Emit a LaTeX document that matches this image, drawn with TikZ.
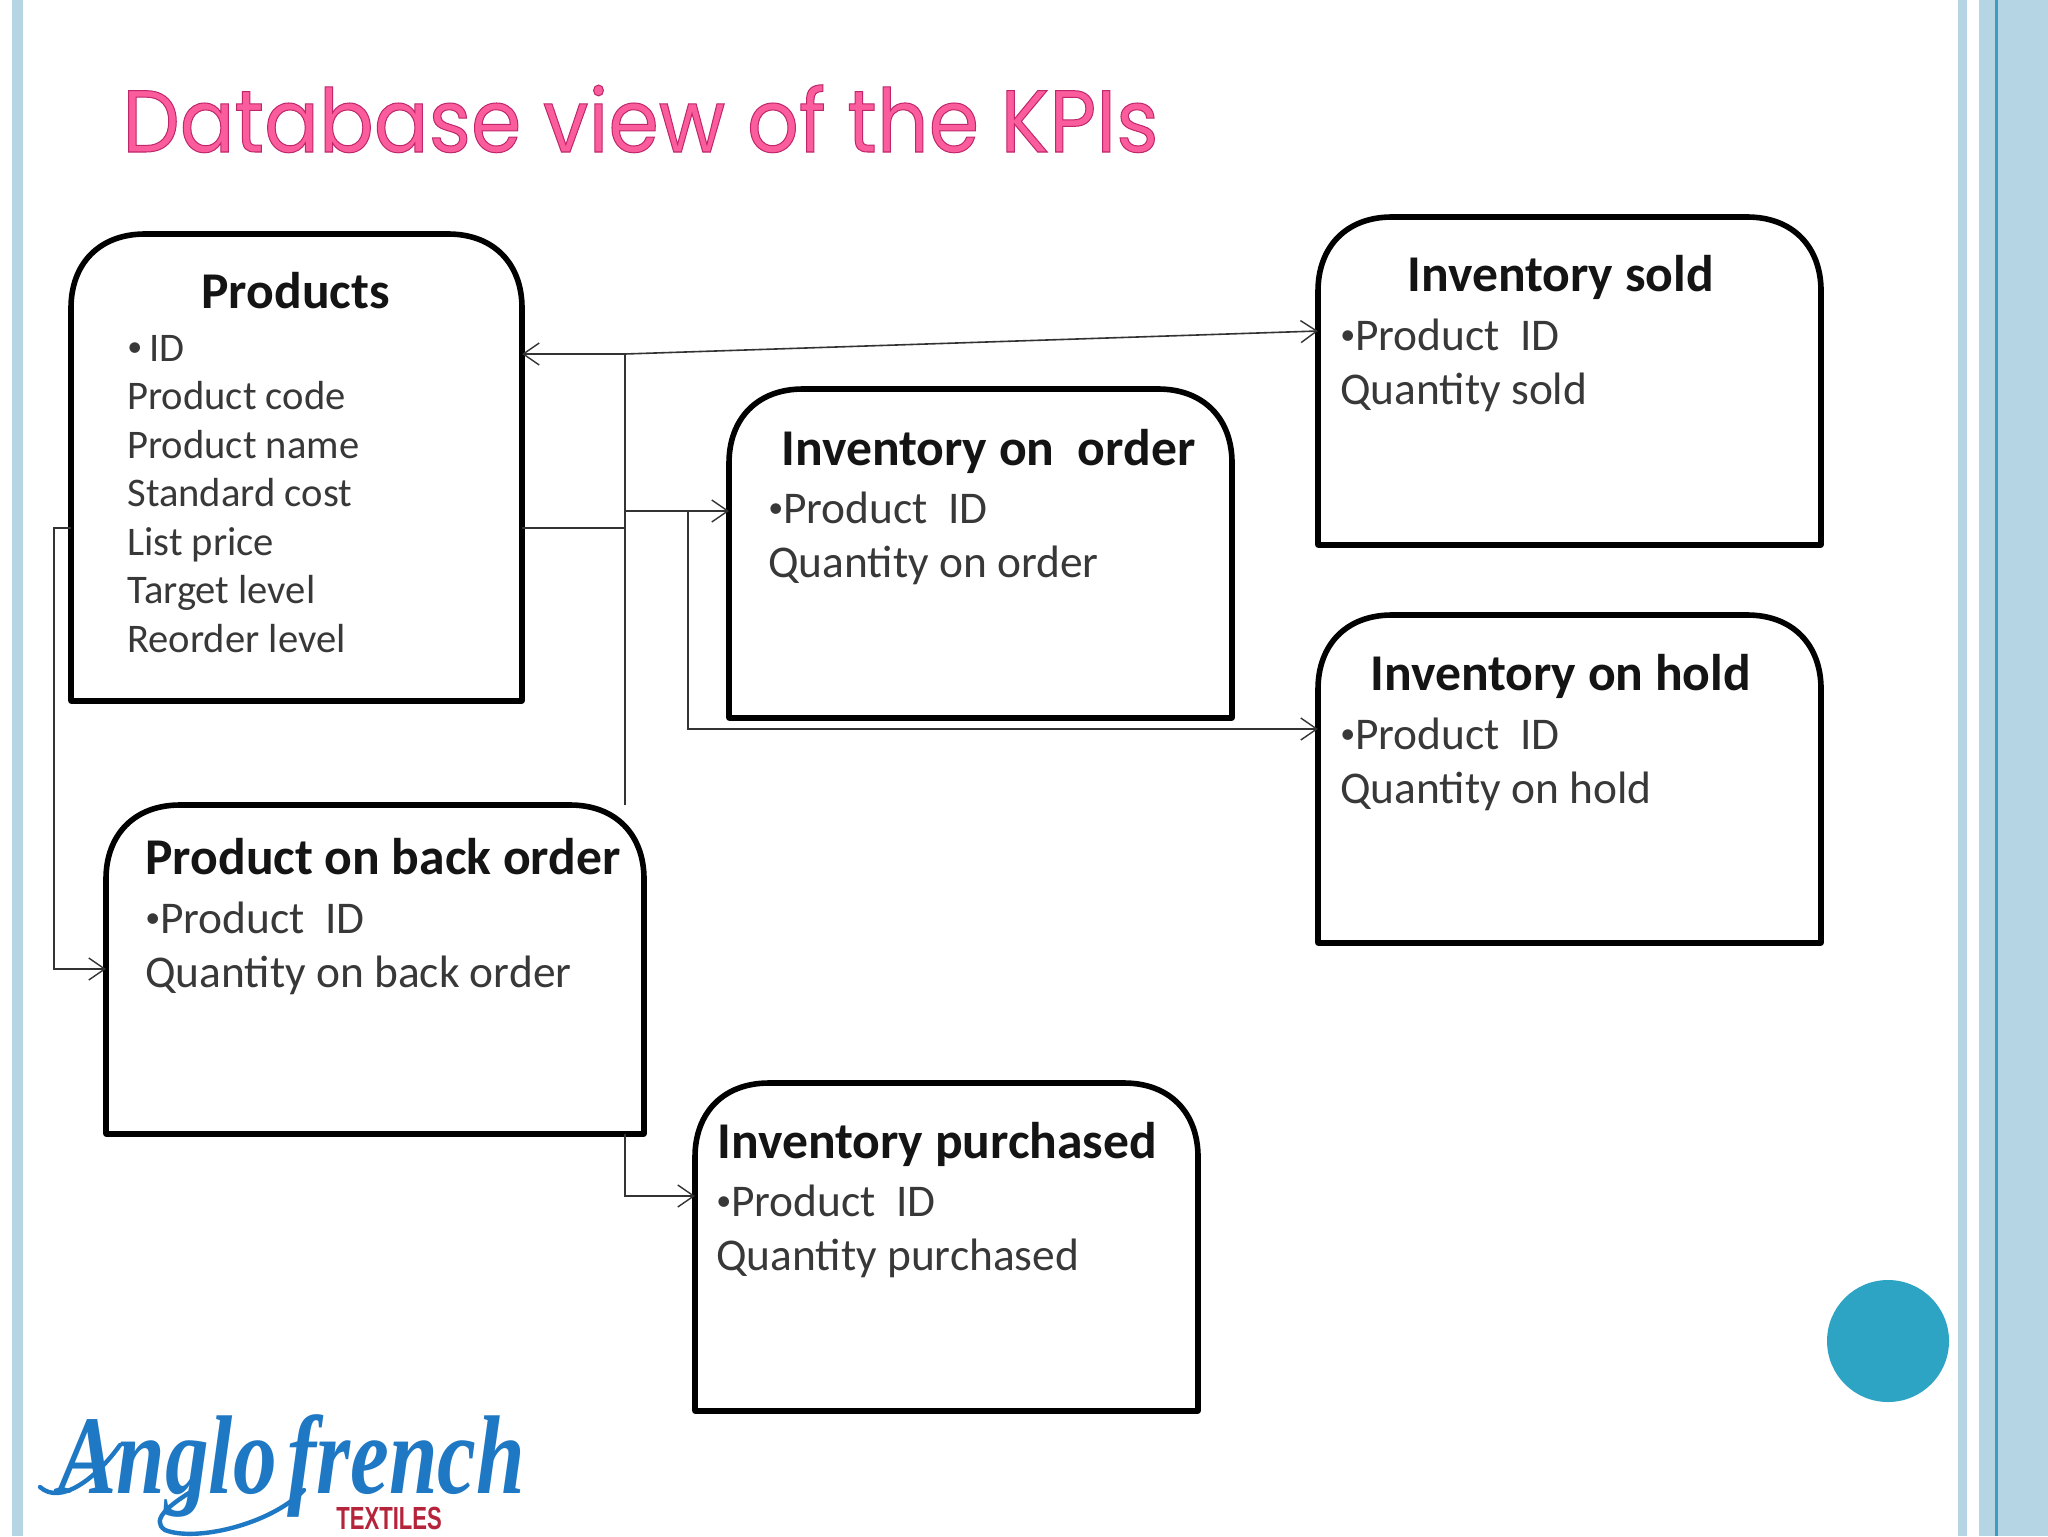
\documentclass[tikz,border=0pt]{standalone}
\usepackage{fontspec}
\setmainfont{Carlito}
\newfontfamily\titlefont[FakeStretch=0.922]{Poppins}
\newfontfamily\logofont[FakeStretch=0.78]{Liberation Serif}
\newfontfamily\logosans[FakeStretch=0.69]{Liberation Sans}
\usetikzlibrary{arrows.meta,calc}
\definecolor{stripe}{HTML}{B6D5E4}
\definecolor{stripedark}{HTML}{3D9CC4}
\definecolor{dot}{HTML}{2DA4C3}
\definecolor{titlepink}{HTML}{FA5C9C}
\definecolor{logoblue}{HTML}{1F78C4}
\definecolor{logored}{HTML}{B5243A}
\newcommand{\smbul}{\raisebox{0.12em}{\fontsize{15}{15}\selectfont •}}
\tikzset{
  x=0.5pt,y=-0.5pt,
  boxline/.style={draw=black,line width=2.8pt,line join=round},
  head/.style={inner sep=0pt,anchor=base west,font=\fontsize{25.8}{30}\selectfont\bfseries,text=black!92},
  body/.style={inner sep=0pt,anchor=base west,align=left,font=\fontsize{22.7}{27}\selectfont,text=black!78},
  prodbody/.style={inner sep=0pt,anchor=base west,align=left,font=\fontsize{20.3}{24.25}\selectfont,text=black!78},
  link/.style={draw=black!80,line width=0.8pt},
  arrowlink/.style={link,-{Straight Barb[length=8pt,width=11pt,line width=0.7pt]}},
  swash/.style={draw=logoblue,line width=2.2pt,line cap=round},
}
\newcommand{\kpibox}[5]{% name, left, top, right, bottom
  \node[inner sep=0pt,outer sep=0pt,minimum width={(#4-#2)*0.5pt},minimum height={(#5-#3)*0.5pt}] (#1) at ({(#2+#4)/2},{(#3+#5)/2}) {};
  \draw[boxline] (#1.south west) -- ($(#1.north west)+(0,74)$)
     .. controls ($(#1.north west)+(0,30)$) and ($(#1.north west)+(28,0)$) .. ($(#1.north west)+(74,0)$)
     -- ($(#1.north east)+(-74,0)$)
     .. controls ($(#1.north east)+(-28,0)$) and ($(#1.north east)+(0,30)$) .. ($(#1.north east)+(0,74)$)
     -- (#1.south east) -- cycle;
}
\begin{document}
\begin{tikzpicture}
\useasboundingbox (0,0) rectangle (2048,1536);
\fill[white] (0,0) rectangle (2048,1536);
% frame stripes
\fill[stripe] (12,0) rectangle (23,1536);
\fill[stripe] (1958,0) rectangle (1967,1536);
\fill[stripe] (1979,0) rectangle (2048,1536);
\fill[stripedark] (1995,0) rectangle (1998,1536);
\node[circle,fill=dot,inner sep=0pt,minimum size=61pt] (dot) at (1888,1341) {};
% title
\node[inner sep=0pt,anchor=base west,text=titlepink] (title) at (122,152) {\fontsize{44}{50}\selectfont\titlefont\special{pdf: code q 0.75 0.15 0.42 RG 0.5 w 2 Tr}Database view of the KPIs\special{pdf: code Q}};
% boxes
\kpibox{prod}{71}{234}{522}{701}
\kpibox{sold}{1318}{217}{1821}{545}
\kpibox{order}{729}{389}{1232}{718}
\kpibox{hold}{1318}{615}{1821}{943}
\kpibox{back}{106}{805}{644}{1134}
\kpibox{purch}{695}{1083}{1198}{1411}
% box text
\node[head] (prodh) at (201,308) {Products};
\node[prodbody] (prodb) at (127,652) {\smbul\,ID\\Product code\\Product name\\Standard cost\\List price\\Target level\\Reorder level};
\node[head] (soldh) at (1407,291) {Inventory sold};
\node[body] (soldb) at (1340,404) {\smbul Product\ \ ID\\Quantity sold};
\node[head] (orderh) at (781,465) {Inventory on\ \ order};
\node[body] (orderb) at (768,577) {\smbul Product\ \ ID\\Quantity on order};
\node[head] (holdh) at (1370,690) {Inventory on hold};
\node[body] (holdb) at (1340,803) {\smbul Product\ \ ID\\Quantity on hold};
\node[head] (backh) at (145,874) {Product on back order};
\node[body] (backb) at (145,987) {\smbul Product\ \ ID\\Quantity on back order};
\node[head] (purchh) at (717,1158) {Inventory purchased};
\node[body] (purchb) at (716,1270) {\smbul Product\ \ ID\\Quantity purchased};
% connectors
\coordinate (j1) at (625,354);
\coordinate (j2) at (625,528);
\coordinate (j3) at (625,511);
\coordinate (j4) at (688,511);
\coordinate (j5) at (688,729);
\coordinate (j6) at (54,528);
\coordinate (j7) at (54,969);
\coordinate (j8) at (625,1196);
\coordinate (soldin) at (sold.west |- 0,331);
\draw[arrowlink] (j1) -- (j1 -| prod.east);
\draw[arrowlink] (j1) -- (soldin);
\draw[link] (j1) -- (j1 |- back.north);
\draw[link] (j2 -| prod.east) -- (j2);
\draw[arrowlink] (j3) -- (j3 -| order.west);
\draw[arrowlink] (j4) -- (j5) -- (j5 -| hold.west);
\draw[arrowlink] (j6 -| prod.west) -- (j6) -- (j7) -- (j7 -| back.west);
\draw[arrowlink] (j8 |- back.south) -- (j8) -- (j8 -| purch.west);
% logo
\coordinate (s1) at (40,1487);
\coordinate (s2) at (189,1493);
\coordinate (s3) at (304,1490);
\node[inner sep=0pt,anchor=base west,text=logoblue,text depth=0pt] (logo) at (58,1493) {\fontsize{56}{60}\selectfont\logofont\bfseries\itshape\smash{Anglo\hspace{-0.1em} french}};
\draw[swash] (s1) .. controls (60,1505) and (95,1480) .. (120,1445);
\draw[swash] (s2) .. controls (170,1505) and (150,1520) .. (165,1530) .. controls (195,1542) and (270,1525) .. (s3);
\node[inner sep=0pt,anchor=base west,text=logored] (logosub) at (336,1529) {\fontsize{16}{18}\selectfont\logosans\bfseries TEXTILES};
\end{tikzpicture}
\end{document}
